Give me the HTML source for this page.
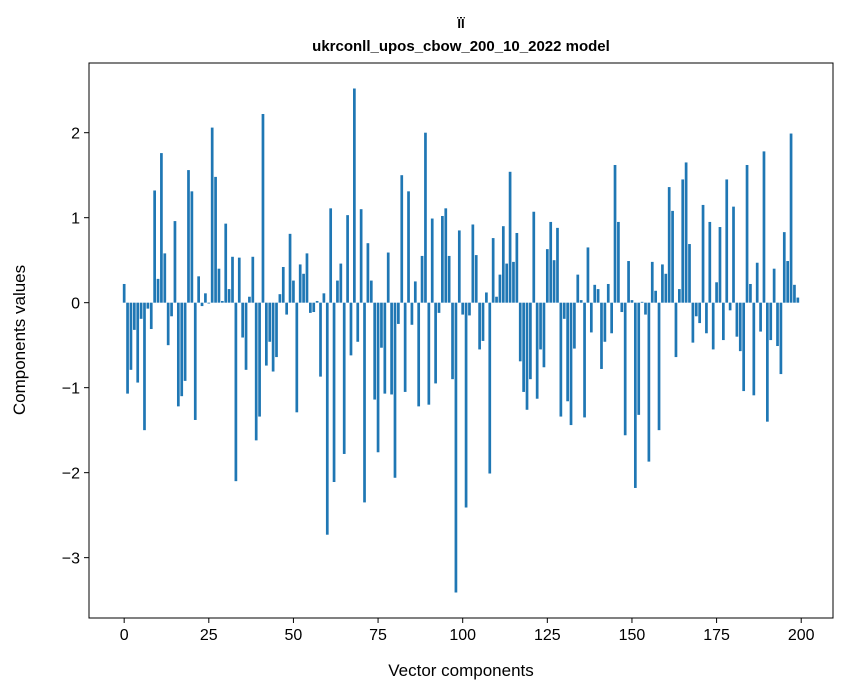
<!DOCTYPE html>
<html><head><meta charset="utf-8"><style>
body{margin:0;background:#fff;}
svg{display:block;font-family:"Liberation Sans","DejaVu Sans",sans-serif;}
</style></head><body>
<svg id="chart" width="847" height="696" viewBox="0 0 847 696" xmlns="http://www.w3.org/2000/svg">
<rect width="847" height="696" fill="#fff"/>
<text x="461" y="28" text-anchor="middle" font-size="13" font-weight="bold">ÏÏ</text>
<text x="461" y="51" text-anchor="middle" font-size="15" font-weight="bold">ukrconll_upos_cbow_200_10_2022 model</text>
<g id="bars"></g>
<g id="xticks"></g>
<g id="yticks"></g>
<rect x="89" y="63" width="744" height="555" fill="none" stroke="#000" stroke-width="1"/>
<text x="461" y="676" text-anchor="middle" font-size="17">Vector components</text>
<text transform="translate(25,340) rotate(-90)" text-anchor="middle" font-size="17">Components values</text>
</svg>
<script>
const values = [0.22,-1.07,-0.79,-0.32,-0.94,-0.19,-1.50,-0.07,-0.31,1.32,0.28,1.76,0.58,-0.50,-0.16,0.96,-1.22,-1.10,-0.92,1.56,1.31,-1.38,0.31,-0.04,0.11,
-0.01,2.06,1.48,0.40,0.02,0.93,0.16,0.54,-2.10,0.53,-0.41,-0.79,0.07,0.54,-1.62,-1.34,2.22,-0.74,-0.46,-0.81,-0.64,0.10,0.42,-0.14,0.81,
0.26,-1.29,0.45,0.34,0.58,-0.12,-0.11,0.02,-0.87,0.11,-2.73,1.11,-2.11,0.26,0.46,-1.78,1.03,-0.62,2.52,-0.46,1.10,-2.35,0.70,0.26,-1.14,
-1.76,-0.53,-1.07,0.59,-1.08,-2.06,-0.25,1.50,-1.05,1.31,-0.26,0.25,-1.22,0.55,2.00,-1.20,0.99,-0.95,-0.12,1.02,1.11,0.55,-0.90,-3.41,0.85,
-0.14,-2.41,-0.15,0.92,0.56,-0.55,-0.45,0.12,-2.01,0.76,0.07,0.33,0.90,0.46,1.54,0.48,0.82,-0.69,-1.05,-1.26,-0.90,1.07,-1.13,-0.55,-0.76,
0.63,0.95,0.50,0.88,-1.34,-0.19,-1.16,-1.44,-0.54,0.33,0.03,-1.35,0.65,-0.35,0.21,0.16,-0.78,-0.46,0.22,-0.36,1.62,0.95,-0.11,-1.56,0.49,
0.03,-2.18,-1.32,0.01,-0.14,-1.87,0.48,0.14,-1.50,0.45,0.34,1.36,1.08,-0.64,0.16,1.45,1.65,0.69,-0.47,-0.16,-0.24,1.15,-0.36,0.95,-0.55,
0.24,0.89,-0.44,1.45,-0.09,1.13,-0.40,-0.57,-1.04,1.62,0.22,-1.09,0.47,-0.34,1.78,-1.40,-0.44,0.40,-0.51,-0.84,0.83,0.49,1.99,0.21,0.06];
const xTicks = [0,25,50,75,100,125,150,175,200];
const yTicks = [-3,-2,-1,0,1,2];
const yTickLabels = ["\u22123","\u22122","\u22121","0","1","2"];

const X0=89,X1=833,Y0=63,Y1=618;
const xMin=-10.39,xMax=209.39,yMin=-3.71,yMax=2.82;
function xs(v){return X0+(v-xMin)/(xMax-xMin)*(X1-X0);}
function ys(v){return Y1-(v-yMin)/(yMax-yMin)*(Y1-Y0);}
const NS="http://www.w3.org/2000/svg";
const bars=document.getElementById('bars');
values.forEach((v,i)=>{
  const r=document.createElementNS(NS,'rect');
  const xa=xs(i-0.4), xb=xs(i+0.4);
  const ya=ys(Math.max(v,0)), yb=ys(Math.min(v,0));
  r.setAttribute('x',xa);r.setAttribute('width',xb-xa);
  r.setAttribute('y',ya);r.setAttribute('height',Math.max(yb-ya,0.1));
  r.setAttribute('fill','#1f77b4');
  
  
  bars.appendChild(r);
});
const xg=document.getElementById('xticks');
xTicks.forEach(t=>{
  const l=document.createElementNS(NS,'line');
  l.setAttribute('x1',xs(t));l.setAttribute('x2',xs(t));l.setAttribute('y1',Y1);l.setAttribute('y2',Y1+5);l.setAttribute('stroke','#000');
  
  
  xg.appendChild(l);
  const tx=document.createElementNS(NS,'text');
  tx.setAttribute('x',xs(t));tx.setAttribute('y',Y1+22);tx.setAttribute('text-anchor','middle');tx.setAttribute('font-size','16');
  tx.textContent=t;
  
  
  xg.appendChild(tx);
});
const yg=document.getElementById('yticks');
yTicks.forEach((t,k)=>{
  const l=document.createElementNS(NS,'line');
  l.setAttribute('x1',X0-5);l.setAttribute('x2',X0);l.setAttribute('y1',ys(t));l.setAttribute('y2',ys(t));l.setAttribute('stroke','#000');
  
  
  yg.appendChild(l);
  const tx=document.createElementNS(NS,'text');
  tx.setAttribute('x',X0-9);tx.setAttribute('y',ys(t)+6);tx.setAttribute('text-anchor','end');tx.setAttribute('font-size','16');
  tx.textContent=yTickLabels[k];
  
  
  yg.appendChild(tx);
});
</script>
</body></html>
